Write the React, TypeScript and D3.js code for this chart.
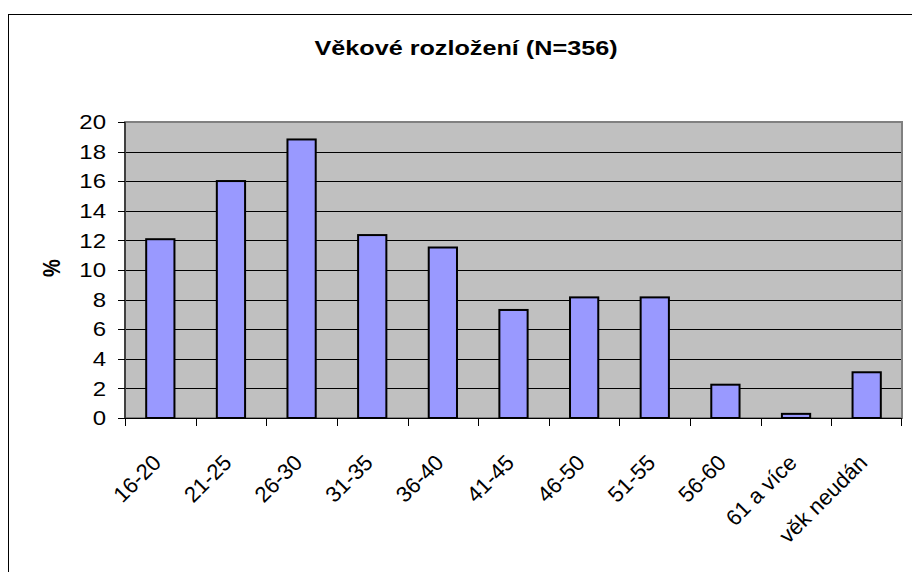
import React from "react";
import * as d3 from "d3";

const categories = ["16-20", "21-25", "26-30", "31-35", "36-40", "41-45", "46-50", "51-55", "56-60", "61 a více", "věk neudán"];
const values = [12.08, 16.01, 18.82, 12.36, 11.52, 7.3, 8.15, 8.15, 2.25, 0.28, 3.09];
const yTicks = [0, 2, 4, 6, 8, 10, 12, 14, 16, 18, 20];
const title = "Věkové rozložení (N=356)";
const yLabel = "%";

export default function App() {
  const W = 912, H = 572;
  const left = 125, right = 902, top = 122, bottom = 418;
  const sx = 1.2;
  const x = d3.scaleBand<string>().domain(categories).range([left, right]).paddingInner(0.6).paddingOuter(0.3);
  const xb = d3.scaleBand<string>().domain(categories).range([left, right]).padding(0);
  const y = d3.scaleLinear().domain([0, 20]).range([bottom, top]);
  const font = "Arial, 'Liberation Sans', sans-serif";
  return (
    <svg width={W} height={H} style={{ position: "absolute", left: 0, top: 0, background: "#fff" }} fontFamily={font}>
      <rect x={8.5} y={14.5} width={1000} height={1000} fill="#fff" stroke="#000" strokeWidth={1} />
      <text transform={`translate(466 55) scale(${sx} 1)`} textAnchor="middle" fontSize={21} fontWeight="bold">{title}</text>
      <rect x={left} y={top} width={right - left} height={bottom - top} fill="#C0C0C0" />
      {yTicks.filter(t => t > 0 && t < 20).map(t => (
        <line key={t} x1={left} x2={right} y1={Math.round(y(t)) + 0.5} y2={Math.round(y(t)) + 0.5} stroke="#000" strokeWidth={1} />
      ))}
      <rect x={left} y={top} width={right - left} height={bottom - top} fill="none" stroke="#808080" strokeWidth={2} />
      {categories.map((c, i) => (
        <rect key={c} x={x(c)!} y={y(values[i])} width={x.bandwidth()} height={bottom - y(values[i])} fill="#9999FF" stroke="#000" strokeWidth={2} />
      ))}
      <line x1={left} x2={left} y1={top} y2={bottom} stroke="#000" strokeWidth={1} />
      <line x1={left} x2={right} y1={bottom + 0.5} y2={bottom + 0.5} stroke="#000" strokeWidth={1} />
      {yTicks.map(t => (
        <g key={t}>
          <line x1={left - 7} x2={left} y1={Math.round(y(t)) + 0.5} y2={Math.round(y(t)) + 0.5} stroke="#000" />
          <text transform={`translate(106 ${y(t)}) scale(${sx} 1)`} dy="0.36em" textAnchor="end" fontSize={20}>{t}</text>
        </g>
      ))}
      {categories.map(c => (
        <line key={c} x1={Math.round(xb(c)!) + 0.5} x2={Math.round(xb(c)!) + 0.5} y1={bottom} y2={bottom + 8} stroke="#000" />
      ))}
      <line x1={right - 0.5} x2={right - 0.5} y1={bottom} y2={bottom + 8} stroke="#000" />
      {categories.map(c => {
        const cx = xb(c)! + xb.bandwidth() / 2 + 2;
        const cy = 464;
        return (
          <text key={c} textAnchor="end" fontSize={22} transform={`translate(${cx} ${cy}) rotate(-45)`}>{c}</text>
        );
      })}
      <text transform={`translate(60 268) scale(${sx} 1) rotate(-90)`} textAnchor="middle" fontSize={20} fontWeight="bold">{yLabel}</text>
    </svg>
  );
}
